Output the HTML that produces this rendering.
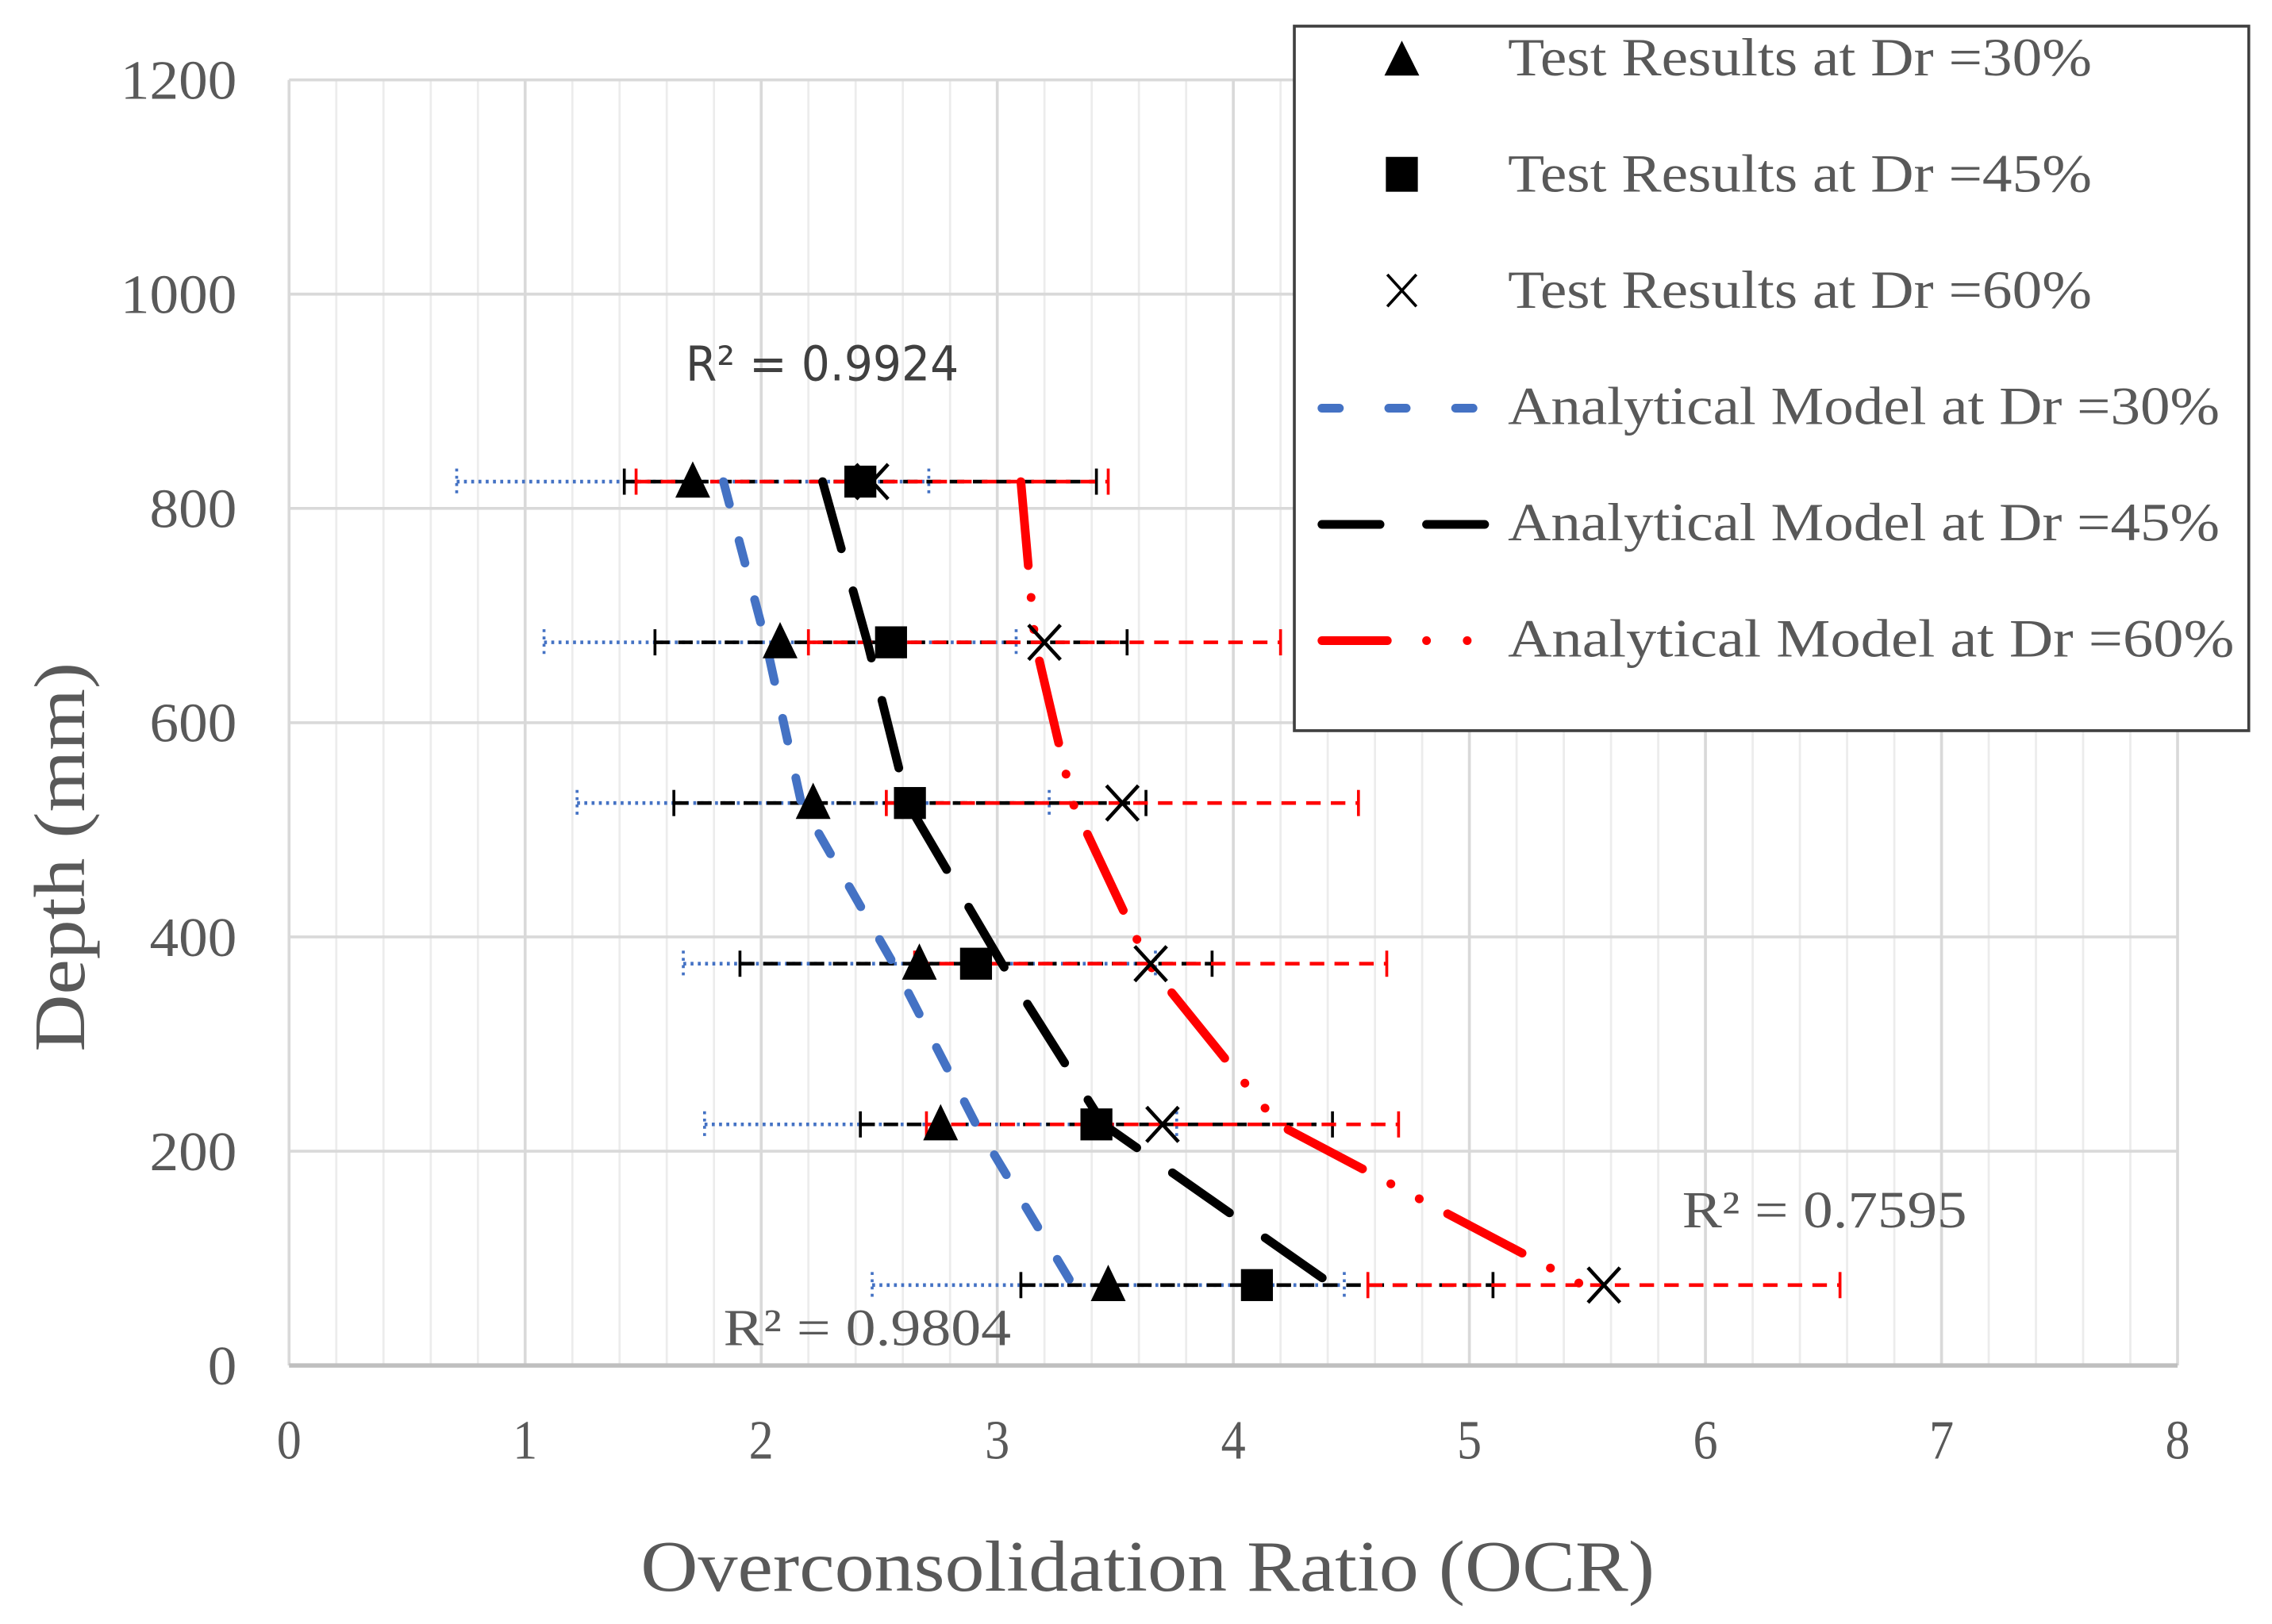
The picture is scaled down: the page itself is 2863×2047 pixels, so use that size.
<!DOCTYPE html>
<html><head><meta charset="utf-8"><style>
html,body{margin:0;padding:0;background:#fff;}
svg{display:block;}
text{font-family:"Liberation Serif",serif;}
</style></head>
<body>
<svg id="chart" width="2863" height="2047" viewBox="0 0 1564 1118" preserveAspectRatio="none" xmlns="http://www.w3.org/2000/svg">
<g id="grid"></g>
<g id="axes"></g>
<g id="errs"></g>
<g id="models"></g>
<g id="marks"></g>
<text x="472" y="262" font-size="33" fill="#404040" style="font-family:'DejaVu Sans','Liberation Sans',sans-serif" textLength="188" lengthAdjust="spacingAndGlyphs">R² = 0.9924</text>
<text x="1158" y="845" font-size="36" fill="#595959" textLength="196" lengthAdjust="spacingAndGlyphs">R² = 0.7595</text>
<text x="498" y="926" font-size="36" fill="#595959" textLength="198" lengthAdjust="spacingAndGlyphs">R² = 0.9804</text>
<text transform="translate(58,590) rotate(-90)" text-anchor="middle" font-size="50" fill="#595959" textLength="268" lengthAdjust="spacingAndGlyphs">Depth (mm)</text>
<text x="790" y="1095" text-anchor="middle" font-size="50" fill="#595959" textLength="698" lengthAdjust="spacingAndGlyphs">Overconsolidation Ratio (OCR)</text>
<g>
<rect x="891" y="18" width="657" height="485" fill="#fff" stroke="#404040" stroke-width="2"/>
<polygon points="965,28 953,52 977,52" fill="#000"/>
<rect x="954" y="108" width="22" height="24" fill="#000"/>
<path d="M955,189 L975,211 M975,189 L955,211" stroke="#000" stroke-width="2"/>
<line x1="910" y1="281" x2="1024" y2="281" stroke="#4472C4" stroke-width="6" stroke-linecap="round" stroke-dasharray="12,34"/>
<line x1="910" y1="361" x2="1024" y2="361" stroke="#000" stroke-width="6" stroke-linecap="round" stroke-dasharray="40,32"/>
<line x1="910" y1="441" x2="955" y2="441" stroke="#f00" stroke-width="6" stroke-linecap="round"/>
<circle cx="982" cy="441" r="3" fill="#f00"/>
<circle cx="1010" cy="441" r="3" fill="#f00"/>
<text x="1038" y="52" font-size="37" fill="#595959" textLength="402" lengthAdjust="spacingAndGlyphs">Test Results at Dr =30%</text>
<text x="1038" y="132" font-size="37" fill="#595959" textLength="402" lengthAdjust="spacingAndGlyphs">Test Results at Dr =45%</text>
<text x="1038" y="212" font-size="37" fill="#595959" textLength="402" lengthAdjust="spacingAndGlyphs">Test Results at Dr =60%</text>
<text x="1038" y="292" font-size="37" fill="#595959" textLength="490" lengthAdjust="spacingAndGlyphs">Analytical Model at Dr =30%</text>
<text x="1038" y="372" font-size="37" fill="#595959" textLength="490" lengthAdjust="spacingAndGlyphs">Analytical Model at Dr =45%</text>
<text x="1038" y="452" font-size="37" fill="#595959" textLength="500" lengthAdjust="spacingAndGlyphs">Analytical Model at  Dr =60%</text>
</g>
</svg>
<script>
const depths = [825, 675, 525, 375, 225, 75];
const ocr30 = [1.71, 2.08, 2.22, 2.67, 2.76, 3.47];
const ocr45 = [2.42, 2.55, 2.63, 2.91, 3.42, 4.10];
const ocr60 = [2.47, 3.20, 3.53, 3.65, 3.70, 5.57];
const errAmount = [1, 1, 1, 1, 1, 1];
const model30 = [1.84, 2.02, 2.17, 2.56, 2.91, 3.32];
const model45 = [2.26, 2.45, 2.62, 3.02, 3.45, 4.42];
const model60 = [3.10, 3.16, 3.32, 3.64, 4.19, 5.48];
const xTicks = [0, 1, 2, 3, 4, 5, 6, 7, 8];
const yTicks = [0, 200, 400, 600, 800, 1000, 1200];

const NS = 'http://www.w3.org/2000/svg';
const X0 = 199, X1 = 1499, Y0 = 940, Y1 = 55;
function xs(v){ return X0 + (v - 0) / 8 * (X1 - X0); }
function ys(v){ return Y0 - v / 1200 * (Y0 - Y1); }
function mk(tag, attrs, parent){
  const e = document.createElementNS(NS, tag);
  for (const k in attrs) e.setAttribute(k, attrs[k]);
  parent.appendChild(e);
  return e;
}
const grid = document.getElementById('grid');
const axes = document.getElementById('axes');
for (let v = 0.2; v < 8; v += 0.2) {
  if (Math.abs(v - Math.round(v)) < 0.01) continue;
  const l = mk('line', {x1: xs(v), x2: xs(v), y1: Y1, y2: Y0, stroke: '#ececec', 'stroke-width': 1.5}, grid);
  
  
}
xTicks.forEach(t => {
  const l = mk('line', {x1: xs(t), x2: xs(t), y1: Y1, y2: Y0, stroke: '#d9d9d9', 'stroke-width': 2}, grid);
  
  
  const tx = mk('text', {x: xs(t), y: 1004, 'text-anchor': 'middle', 'font-size': 38, fill: '#595959', textLength: 17, lengthAdjust: 'spacingAndGlyphs'}, axes);
  tx.textContent = t;
  
  
});
yTicks.forEach(t => {
  const l = mk('line', {x1: X0, x2: X1, y1: ys(t), y2: ys(t), stroke: t === 0 ? '#bfbfbf' : '#d9d9d9', 'stroke-width': t === 0 ? 3 : 2}, grid);
  
  
  const s = String(t);
  const tx = mk('text', {x: 163, y: ys(t) + 13, 'text-anchor': 'end', 'font-size': 38, fill: '#595959', textLength: 20 * s.length, lengthAdjust: 'spacingAndGlyphs'}, axes);
  tx.textContent = t;
  
  
});

const errs = document.getElementById('errs');
function errBars(vals, color, dash, width, name){
  vals.forEach((v, i) => {
    const y = ys(depths[i]), a = xs(v - errAmount[i]), b = xs(v + errAmount[i]);
    const l = mk('line', {x1: a, x2: b, y1: y, y2: y, stroke: color, 'stroke-width': width, 'stroke-dasharray': dash}, errs);
    
    
    [a, b].forEach(px => {
      const c = mk('line', {x1: px, x2: px, y1: y - 9, y2: y + 9, stroke: color, 'stroke-width': 2, 'stroke-dasharray': dash === '2,3' ? '2,3' : 'none'}, errs);
      
      
    });
  });
}
errBars(ocr30, '#4472C4', '2,3', 2.5, 'error-bar-dr30');
errBars(ocr45, '#000', '10,6', 2.5, 'error-bar-dr45');
errBars(ocr60, '#f00', '10,7', 2.5, 'error-bar-dr60');

const models = document.getElementById('models');
function modelLine(vals, color, dash, name){
  const pts = vals.map((v, i) => xs(v) + ',' + ys(depths[i])).join(' ');
  const p = mk('polyline', {points: pts, fill: 'none', stroke: color, 'stroke-width': 6, 'stroke-linecap': 'round', 'stroke-linejoin': 'round', 'stroke-dasharray': dash}, models);
  
  
}
modelLine(model30, '#4472C4', '16,26', 'model-line-dr30');
modelLine(model45, '#000', '48,30', 'model-line-dr45');
modelLine(model60, '#f00', '58,22,0.1,22,0.1,22', 'model-line-dr60');

const marks = document.getElementById('marks');
ocr30.forEach((v, i) => {
  const x = xs(v), y = ys(depths[i]);
  const t = mk('polygon', {points: `${x},${y-14} ${x-12},${y+11} ${x+12},${y+11}`, fill: '#000'}, marks);
  
  
});
ocr45.forEach((v, i) => {
  const x = xs(v), y = ys(depths[i]);
  const r = mk('rect', {x: x - 11, y: y - 11, width: 22, height: 22, fill: '#000'}, marks);
  
  
});
ocr60.forEach((v, i) => {
  const x = xs(v), y = ys(depths[i]);
  const p = mk('path', {d: `M${x-11},${y-12} L${x+11},${y+12} M${x+11},${y-12} L${x-11},${y+12}`, stroke: '#000', 'stroke-width': 2.5}, marks);
  
  
});
</script>
</body></html>
